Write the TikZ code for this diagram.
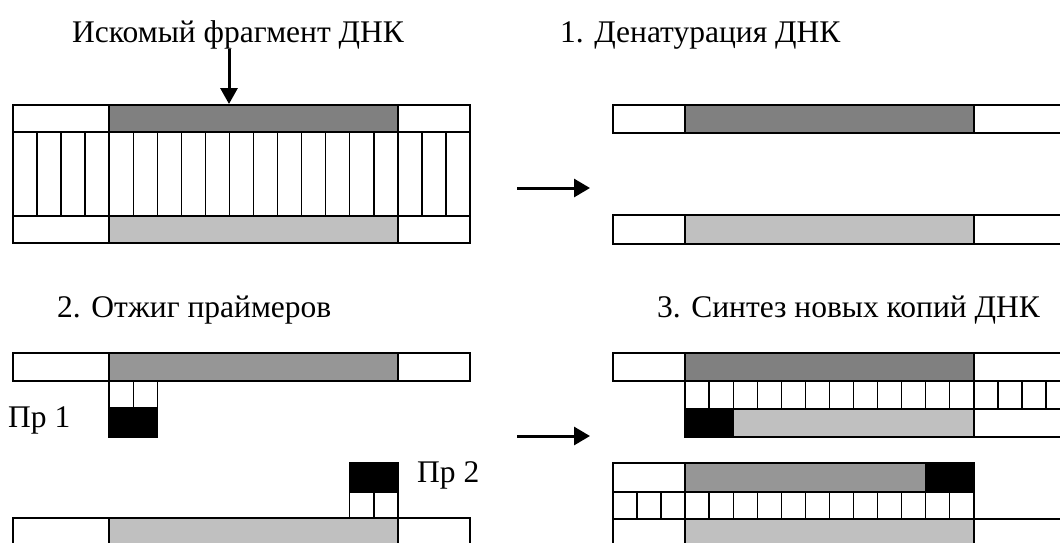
\documentclass[tikz,border=0pt]{standalone}
\usepackage{fontspec}
\setmainfont{Liberation Serif}
\usetikzlibrary{arrows.meta}
\definecolor{gdark}{HTML}{808080}
\definecolor{gmid}{HTML}{969696}
\definecolor{glight}{HTML}{C0C0C0}
% one strand segment: origin, from unit, to unit, top y, bottom y, fill
\newcommand\strandseg[6]{\filldraw[cell, fill=#6] ({#1+#2*\uw},#4) rectangle ({#1+#3*\uw},#5);}
% a row of base-pair cells: origin, from unit, to unit, top y, bottom y
\newcommand\rungrow[5]{\pgfmathtruncatemacro\lastk{#3-1}%
  \foreach \k in {#2,...,\lastk}{\draw[rung] ({#1+\k*\uw},#4) rectangle ({#1+(\k+1)*\uw},#5);}}
\begin{document}
\begin{tikzpicture}[x=1pt,y=-1pt,
  cell/.style={draw=black, line width=1.8pt},
  rung/.style={draw=black, line width=1.5pt},
  lbl/.style={anchor=base west, inner sep=0pt, font=\fontsize{31.5}{38}\selectfont},
  flow/.style={line width=3pt, -{Triangle[length=16pt,width=18pt]}}]
\def\uw{24.05}
\def\L{13}
\def\R{613}
\useasboundingbox (0,0) rectangle (1060,542);
\clip (0,0) rectangle (1060,542);

% titles
\node[lbl] (target) at (72,42) {Искомый фрагмент ДНК};
\node[lbl] (step1) at (560,42) {1. Денатурация ДНК};
\node[lbl] (step2) at (57,317) {2. Отжиг праймеров};
\node[lbl] (step3) at (657,317) {3. Синтез новых копий ДНК};
\node[lbl] (pr1) at (8,427) {Пр 1};
\node[lbl] (pr2) at (417,482) {Пр 2};

% double-stranded DNA
\rungrow{\L}{0}{19}{132}{216}
\strandseg{\L}{0}{4}{105}{132}{white}
\strandseg{\L}{4}{16}{105}{132}{gdark}
\strandseg{\L}{16}{19}{105}{132}{white}
\strandseg{\L}{0}{4}{216}{243}{white}
\strandseg{\L}{4}{16}{216}{243}{glight}
\strandseg{\L}{16}{19}{216}{243}{white}
\coordinate (tgt) at (229,104);
\draw[line width=3pt, -{Triangle[length=16pt,width=17pt]}] (target.south -| tgt) -- (tgt);

% 1. denaturation
\strandseg{\R}{0}{3}{105}{133}{white}
\strandseg{\R}{3}{15}{105}{133}{gdark}
\strandseg{\R}{15}{19}{105}{133}{white}
\strandseg{\R}{0}{3}{215}{244}{white}
\strandseg{\R}{3}{15}{215}{244}{glight}
\strandseg{\R}{15}{19}{215}{244}{white}

% 2. primer annealing
\strandseg{\L}{0}{4}{353}{381}{white}
\strandseg{\L}{4}{16}{353}{381}{gmid}
\strandseg{\L}{16}{19}{353}{381}{white}
\rungrow{\L}{4}{6}{381}{408}
\strandseg{\L}{4}{6}{408}{437}{black}
\strandseg{\L}{14}{16}{463}{492}{black}
\rungrow{\L}{14}{16}{492}{518}
\strandseg{\L}{0}{4}{518}{546}{white}
\strandseg{\L}{4}{16}{518}{546}{glight}
\strandseg{\L}{16}{19}{518}{546}{white}

% 3. synthesis of new copies
\rungrow{\R}{3}{19}{381}{409}
\strandseg{\R}{0}{3}{353}{381}{white}
\strandseg{\R}{3}{15}{353}{381}{gdark}
\strandseg{\R}{15}{19}{353}{381}{white}
\strandseg{\R}{3}{5}{409}{437}{black}
\strandseg{\R}{5}{15}{409}{437}{glight}
\strandseg{\R}{15}{19}{409}{437}{white}
\rungrow{\R}{0}{15}{492}{519}
\strandseg{\R}{0}{3}{463}{492}{white}
\strandseg{\R}{3}{13}{463}{492}{gmid}
\strandseg{\R}{13}{15}{463}{492}{black}
\strandseg{\R}{0}{3}{519}{547}{white}
\strandseg{\R}{3}{15}{519}{547}{glight}
\strandseg{\R}{15}{19}{519}{547}{white}

% step arrows
\coordinate (a1s) at (517,188);
\coordinate (a1e) at (590,188);
\coordinate (a2s) at (517,436);
\coordinate (a2e) at (590,436);
\draw[flow] (a1s) -- (a1e);
\draw[flow] (a2s) -- (a2e);
\end{tikzpicture}
\end{document}
